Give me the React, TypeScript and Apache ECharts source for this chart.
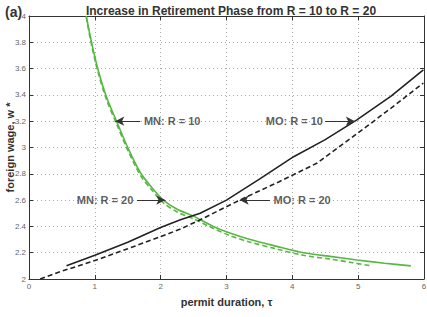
import React, { useEffect, useRef } from "react";
import * as echarts from "echarts";

const FONT = '"Liberation Sans", Arial, Helvetica, sans-serif';

const mnR10: [number, number][] = [
  [0.87, 4.0], [0.95, 3.8], [1.05, 3.59], [1.18, 3.38], [1.33, 3.2], [1.5, 3.0],
  [1.69, 2.81], [1.86, 2.7], [2.04, 2.6], [2.25, 2.53], [2.49, 2.48], [2.8, 2.4],
  [3.05, 2.35], [3.36, 2.3], [3.75, 2.25], [4.17, 2.2], [4.6, 2.17], [4.98, 2.145],
  [5.4, 2.12], [5.8, 2.1],
];
const mnR20: [number, number][] = [
  [0.87, 3.99], [0.95, 3.78], [1.05, 3.57], [1.18, 3.36], [1.33, 3.18], [1.5, 2.98],
  [1.69, 2.79], [1.86, 2.68], [2.04, 2.58], [2.25, 2.51], [2.49, 2.46], [2.8, 2.385],
  [3.05, 2.33], [3.36, 2.28], [3.75, 2.23], [4.17, 2.18], [4.6, 2.15], [4.9, 2.125],
  [5.2, 2.1],
];
const moR10: [number, number][] = [
  [0.57, 2.1], [1.0, 2.18], [1.5, 2.28], [1.99, 2.39], [2.3, 2.45], [2.6, 2.5],
  [3.0, 2.6], [3.5, 2.76], [4.02, 2.93], [4.5, 3.06], [4.98, 3.21], [5.5, 3.39],
  [5.99, 3.59],
];
const moR20: [number, number][] = [
  [0.17, 2.0], [0.47, 2.055], [1.0, 2.14], [1.5, 2.23], [1.99, 2.32], [2.3, 2.38],
  [2.6, 2.45], [3.2, 2.6], [3.8, 2.74], [4.37, 2.88], [5.13, 3.16], [5.5, 3.3],
  [5.99, 3.49],
];

// annotation texts: [x, y, label, side]
const labels: [number, number, string, string][] = [
  [1.73, 3.2, "MN: R = 10", "right"],
  [1.6, 2.6, "MN: R = 20", "left"],
  [4.48, 3.2, "MO: R = 10", "left"],
  [3.7, 2.6, "MO: R = 20", "right"],
];
// arrows: from [x, y] to tip [x, y]
const arrows: [number, number, number, number][] = [
  [1.69, 3.2, 1.31, 3.2],
  [1.64, 2.6, 2.07, 2.6],
  [4.5, 3.2, 4.95, 3.2],
  [3.66, 2.6, 3.2, 2.6],
];

const GREEN = "#56b842";
const DARK = "#222222";

export default function App() {
  const ref = useRef<HTMLDivElement>(null);
  useEffect(() => {
    if (!ref.current) return;
    const chart = echarts.init(ref.current, undefined, { renderer: "svg" });
    const axisCommon = {
      axisLine: { show: true, onZero: false, lineStyle: { color: "#333", width: 1 } },
      axisTick: { show: true, inside: true, length: 4, lineStyle: { color: "#333" } },
    };
    chart.setOption({
      animation: false,
      backgroundColor: "#ffffff",
      textStyle: { fontFamily: FONT },
      title: [
        {
          text: "Increase in Retirement Phase from R = 10 to R = 20",
          left: 226,
          textAlign: "center",
          top: 0,
          textStyle: { fontFamily: FONT, fontSize: 12, fontWeight: "bold", color: "#333" },
        },
        {
          text: "(a)",
          left: 0,
          top: 0,
          textStyle: { fontFamily: FONT, fontSize: 14, fontWeight: "bold", color: "#333" },
        },
      ],
      grid: {
        left: 29,
        top: 16,
        width: 395,
        height: 263,
        show: false,
        containLabel: false,
        outerBoundsMode: "none",
      },
      xAxis: [
        {
          type: "value",
          min: 0,
          max: 6,
          interval: 1,
          name: "permit duration, τ",
          nameLocation: "middle",
          nameGap: 17,
          nameMoveOverlap: false,
          nameTextStyle: { fontFamily: FONT, fontSize: 11, fontWeight: "bold", color: "#333" },
          ...axisCommon,
          axisLabel: { fontSize: 8, color: "#666", margin: 3, fontFamily: FONT },
          splitLine: { show: true, lineStyle: { type: [1, 3], color: "#aaa", width: 1 } },
        },
        {
          type: "value",
          position: "top",
          min: 0,
          max: 6,
          interval: 1,
          ...axisCommon,
          axisLabel: { show: false },
          splitLine: { show: false },
        },
      ],
      yAxis: [
        {
          type: "value",
          min: 2,
          max: 4,
          interval: 0.2,
          name: "foreign wage, w *",
          nameLocation: "middle",
          nameGap: 14,
          nameMoveOverlap: false,
          nameTextStyle: { fontFamily: FONT, fontSize: 11, fontWeight: "bold", color: "#333" },
          ...axisCommon,
          axisLabel: {
            fontSize: 8,
            color: "#666",
            margin: 3,
            fontFamily: FONT,
            formatter: (v: number) => String(Math.round(v * 10) / 10),
          },
          splitLine: { show: true, lineStyle: { type: [1, 3], color: "#aaa", width: 1 } },
        },
        {
          type: "value",
          position: "right",
          min: 2,
          max: 4,
          interval: 0.2,
          ...axisCommon,
          axisLabel: { show: false },
          splitLine: { show: false },
        },
      ],
      series: [
        {
          type: "line",
          data: mnR20,
          showSymbol: false,
          smooth: 0.3,
          lineStyle: { color: GREEN, width: 1.6, type: [5, 3] },
          z: 3,
        },
        {
          type: "line",
          data: mnR10,
          showSymbol: false,
          smooth: 0.3,
          lineStyle: { color: GREEN, width: 1.6 },
          z: 3,
        },
        {
          type: "line",
          data: moR20,
          showSymbol: false,
          lineStyle: { color: DARK, width: 1.6, type: [5, 3] },
          z: 4,
        },
        {
          type: "line",
          data: moR10,
          showSymbol: false,
          lineStyle: { color: DARK, width: 1.6 },
          z: 4,
          markLine: {
            silent: true,
            symbol: ["none", "arrow"],
            symbolSize: [7, 9],
            label: { show: false },
            lineStyle: { color: "#333", width: 1, type: "solid" },
            data: arrows.map(([x1, y1, x2, y2]) => [
              { coord: [x1, y1] },
              { coord: [x2, y2] },
            ]),
          },
        },
        {
          type: "scatter",
          symbolSize: 0,
          silent: true,
          z: 6,
          data: labels.map(([x, y, t, side]) => ({
            value: [x, y],
            name: t,
            label: {
              show: true,
              position: side,
              distance: 1,
              formatter: t,
              fontFamily: FONT,
              fontSize: 11,
              fontWeight: "bold",
              color: "#333",
            },
          })),
        },
      ],
    });
    return () => chart.dispose();
  }, []);
  return (
    <div
      ref={ref}
      style={{ position: "fixed", left: 0, top: 0, width: 427, height: 317, background: "#fff" }}
    />
  );
}
